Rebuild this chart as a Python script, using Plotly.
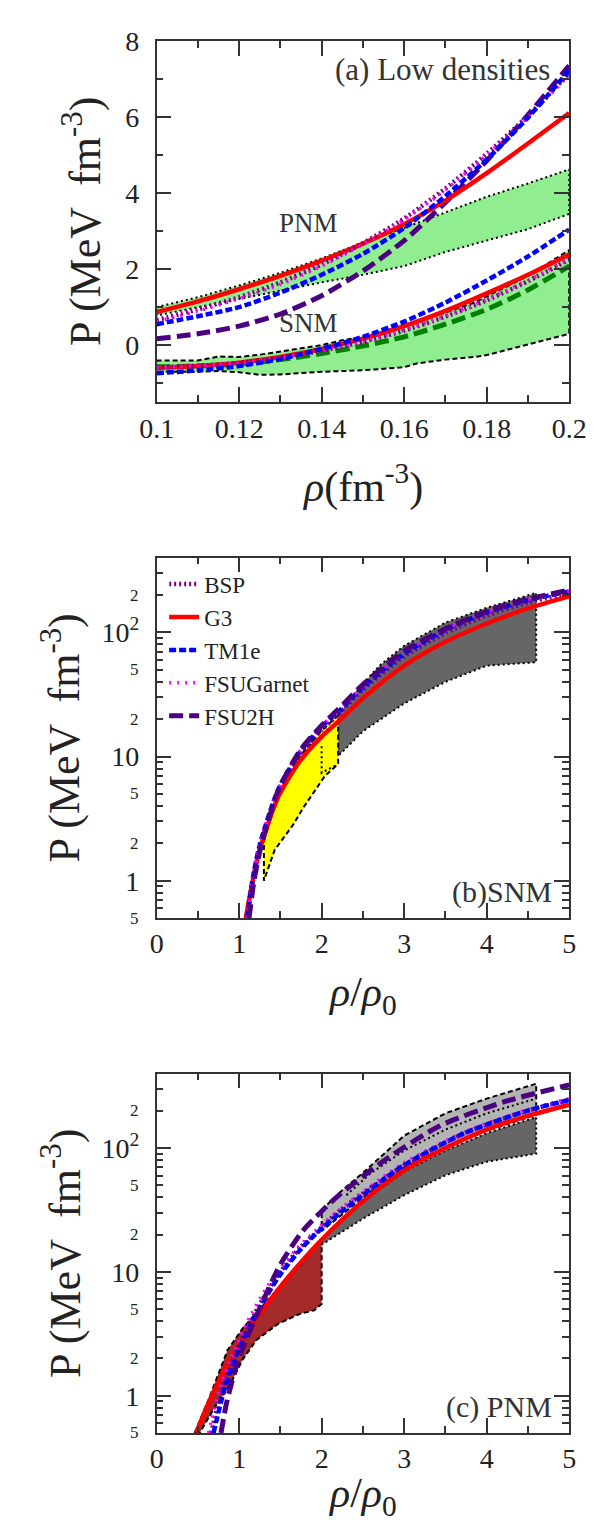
import numpy as np
import plotly.graph_objects as go

FONT = "Liberation Serif"
INK = "#333333"

# ---------------- Panel (a): low densities ----------------
A_X = [0.10, 0.11, 0.12, 0.13, 0.14, 0.15, 0.16, 0.17, 0.18, 0.19, 0.20]
A_PNM_BSP = [0.66, 0.94, 1.26, 1.65, 2.12, 2.68, 3.33, 4.12, 5.03, 6.03, 7.15]
A_PNM_G3 = [0.87, 1.15, 1.47, 1.82, 2.22, 2.67, 3.18, 3.80, 4.52, 5.30, 6.10]
A_PNM_TM1E = [0.55, 0.76, 1.00, 1.38, 1.85, 2.40, 3.08, 3.92, 4.88, 5.98, 7.22]
A_PNM_FSUGARNET = [0.62, 0.90, 1.22, 1.60, 2.08, 2.65, 3.30, 4.08, 5.00, 6.00, 7.10]
A_PNM_FSU2H = [0.17, 0.30, 0.50, 0.82, 1.30, 1.95, 2.75, 3.75, 4.85, 6.05, 7.35]

A_SNM_BSP = [-0.58, -0.54, -0.47, -0.33, -0.15, 0.09, 0.38, 0.75, 1.18, 1.68, 2.25]
A_SNM_G3 = [-0.60, -0.55, -0.46, -0.31, -0.10, 0.17, 0.50, 0.90, 1.36, 1.85, 2.38]
A_SNM_TM1E = [-0.74, -0.66, -0.55, -0.36, -0.10, 0.22, 0.62, 1.12, 1.70, 2.33, 3.04]
A_SNM_FSUGARNET = [-0.58, -0.54, -0.47, -0.33, -0.14, 0.10, 0.40, 0.77, 1.20, 1.70, 2.27]
A_SNM_GREEN = [-0.57, -0.55, -0.50, -0.38, -0.22, -0.02, 0.22, 0.55, 0.94, 1.45, 2.08]

A_PNM_BAND_X = [0.10, 0.11, 0.12, 0.13, 0.14, 0.15, 0.16, 0.17, 0.18, 0.19, 0.20]
A_PNM_BAND_UP = [1.00, 1.26, 1.57, 1.90, 2.28, 2.70, 3.08, 3.50, 3.90, 4.25, 4.62]
A_PNM_BAND_LO = [0.78, 0.98, 1.20, 1.43, 1.65, 1.85, 2.08, 2.45, 2.75, 3.05, 3.45]

A_SNM_BAND_X = [0.10, 0.11, 0.115, 0.12, 0.125, 0.13, 0.14, 0.145, 0.15, 0.16,
                0.163, 0.17, 0.177, 0.18, 0.19, 0.20]
A_SNM_BAND_UP = [-0.40, -0.40, -0.30, -0.31, -0.25, -0.17, 0.00, 0.13, 0.21, 0.52,
                 0.60, 0.86, 1.12, 1.28, 1.82, 2.50]
A_SNM_BAND_LO = [-0.70, -0.70, -0.68, -0.71, -0.78, -0.77, -0.70, -0.68, -0.66, -0.58,
                 -0.48, -0.38, -0.31, -0.26, 0.02, 0.30]

A_XTICKS = [0.10, 0.12, 0.14, 0.16, 0.18, 0.20]
A_XTICK_LABELS = ["0.1", "0.12", "0.14", "0.16", "0.18", "0.2"]
A_YTICKS = [0, 2, 4, 6, 8]

# ---------------- Panel (b): SNM ----------------
B_BSP_X = [1.10, 1.16, 1.25, 1.47, 1.73, 2.0, 2.2, 2.5, 3.0, 3.5, 4.0, 4.5, 5.0]
B_BSP = [0.50, 0.97, 1.9, 5.1, 10.2, 16.4, 21.8, 34.5, 64.0, 99.0, 137.0, 174.0, 208.0]
B_G3_X = [1.08, 1.15, 1.25, 1.47, 1.73, 2.0, 2.2, 2.5, 3.0, 3.5, 4.0, 4.5, 5.0]
B_G3 = [0.50, 0.89, 1.78, 4.68, 9.1, 14.5, 19.1, 29.5, 54.0, 84.0, 118.0, 156.0, 195.0]
B_TM1E_X = [1.10, 1.16, 1.25, 1.47, 1.73, 2.0, 2.2, 2.5, 3.0, 3.5, 4.0, 4.5, 5.0]
B_TM1E = [0.50, 1.0, 1.95, 5.37, 10.7, 17.4, 22.9, 36.3, 67.6, 105.0, 145.0, 182.0, 214.0]
B_FSUGARNET_X = [1.10, 1.16, 1.25, 1.47, 1.73, 2.0, 2.2, 2.5, 3.0, 3.5, 4.0, 4.5, 5.0]
B_FSUGARNET = [0.50, 1.0, 1.97, 5.4, 10.8, 17.6, 23.3, 37.0, 69.0, 106.0, 146.0, 183.0, 216.0]
B_FSU2H_X = [1.12, 1.18, 1.27, 1.47, 1.73, 2.0, 2.2, 2.5, 3.0, 3.5, 4.0, 4.5, 5.0]
B_FSU2H = [0.50, 1.0, 1.95, 5.25, 11.0, 17.8, 24.0, 38.0, 70.8, 107.0, 148.0, 186.0, 219.0]

B_YEL_UP_X = [1.30, 1.35, 1.47, 1.73, 2.0, 2.2]
B_YEL_UP = [2.1, 2.7, 4.9, 10.0, 16.2, 21.5]
B_YEL_LO_X = [1.30, 1.43, 1.65, 1.78, 2.04, 2.2]
B_YEL_LO = [1.0, 1.77, 2.8, 3.9, 7.0, 8.7]
B_YEL_DOT_X = [2.0, 2.0, 2.2]
B_YEL_DOT = [12.1, 7.4, 8.7]

B_GRAY_UP_X = [2.2, 2.5, 2.7, 3.0, 3.5, 4.0, 4.6]
B_GRAY_UP = [21.5, 38.5, 54.0, 78.0, 120.0, 158.0, 208.0]
B_GRAY_LO_X = [2.2, 2.5, 3.0, 3.5, 4.0, 4.6]
B_GRAY_LO = [10.1, 16.0, 26.8, 40.0, 54.0, 57.6]

# ---------------- Panel (c): PNM ----------------
C_BSP_X = [0.66, 0.79, 0.94, 1.1, 1.32, 1.5, 1.73, 1.92, 2.21, 2.97, 3.73, 4.49, 5.0]
C_BSP = [0.50, 1.10, 2.04, 3.55, 6.61, 10.0, 15.5, 20.4, 30.9, 70.8, 132.0, 200.0, 245.0]
C_G3_X = [0.48, 0.60, 0.71, 0.85, 1.0, 1.25, 1.5, 1.75, 2.0, 2.5, 3.0, 3.5, 4.0, 4.5, 5.0]
C_G3 = [0.50, 0.79, 1.15, 1.74, 2.57, 4.57, 7.59, 12.0, 18.2, 37.2, 66.1, 100.0, 141.0, 182.0, 224.0]
C_TM1E_X = [0.69, 0.82, 0.955, 1.1, 1.32, 1.5, 1.73, 1.92, 2.21, 2.97, 3.73, 4.49, 5.0]
C_TM1E = [0.50, 1.12, 2.04, 3.31, 6.17, 9.55, 14.8, 20.0, 29.5, 70.8, 132.0, 200.0, 245.0]
C_FSUGARNET_X = [0.63, 0.76, 0.92, 1.1, 1.32, 1.5, 1.73, 1.92, 2.21, 2.97, 3.73, 4.49, 5.0]
C_FSUGARNET = [0.50, 1.12, 2.14, 3.98, 7.24, 10.7, 16.2, 21.4, 31.6, 74.1, 135.0, 204.0, 251.0]
C_FSU2H_X = [0.78, 0.85, 0.99, 1.24, 1.5, 1.77, 2.0, 2.21, 2.78, 3.43, 4.19, 5.0]
C_FSU2H = [0.50, 0.89, 1.95, 4.90, 11.5, 21.4, 30.9, 41.7, 81.3, 151.0, 234.0, 324.0]

C_BROWN_UP_X = [0.46, 0.63, 0.86, 0.95, 1.05, 1.25, 1.5, 1.75, 1.92, 2.0]
C_BROWN_UP = [0.50, 0.93, 2.34, 2.88, 3.55, 5.01, 7.59, 11.5, 15.8, 17.8]
C_BROWN_LO_X = [0.52, 0.71, 0.88, 1.04, 1.21, 1.47, 1.73, 1.91, 2.0]
C_BROWN_LO = [0.50, 0.82, 1.19, 1.95, 2.82, 3.80, 4.57, 4.90, 5.50]

C_LGRAY_UP_X = [2.0, 2.25, 2.5, 2.75, 3.0, 3.5, 4.0, 4.6]
C_LGRAY_UP = [31.6, 45.7, 63.1, 89.1, 126.0, 191.0, 251.0, 331.0]
C_LGRAY_LO_X = [2.0, 2.5, 3.0, 3.5, 4.0, 4.6]
C_LGRAY_LO = [21.4, 39.8, 69.2, 102.0, 138.0, 186.0]
C_DOT_X = [2.3, 2.6, 3.0, 3.5, 4.0, 4.6]
C_DOT = [41.7, 63.1, 95.5, 141.0, 191.0, 251.0]

C_DGRAY_UP_X = [2.0, 2.5, 3.0, 3.5, 4.0, 4.6]
C_DGRAY_UP = [18.6, 37.2, 64.6, 95.5, 132.0, 178.0]
C_DGRAY_LO_X = [2.0, 2.5, 3.0, 3.5, 4.0, 4.6]
C_DGRAY_LO = [16.6, 26.9, 41.7, 60.3, 77.6, 90.2]

LOG_MAJOR = [1, 10, 100]
LOG_MAJOR_LABELS = ["1", "10", "10<sup>2</sup>"]
LOG_SMALL = [0.5, 2, 5, 20, 50, 200]
LOG_SMALL_LABELS = ["5", "2", "5", "2", "5", "2"]
LOG_MINOR = [0.5, 0.6, 0.7, 0.8, 0.9, 2, 3, 4, 5, 6, 7, 8, 9,
             20, 30, 40, 50, 60, 70, 80, 90, 200, 300, 400]
RHO_TICKS = [0, 1, 2, 3, 4, 5]

MODELS = ["BSP", "G3", "TM1e", "FSUGarnet", "FSU2H"]
STYLE = {
    "BSP": dict(color="#800080", dash="2px,3px", width=4.5),
    "G3": dict(color="#ff0000", dash="solid", width=4.5),
    "TM1e": dict(color="#0000ff", dash="7px,3px", width=4.5),
    "FSUGarnet": dict(color="#ff00ff", dash="2px,6px", width=3.5),
    "FSU2H": dict(color="#4b0082", dash="14px,6px", width=5),
}
GREEN_STYLE = dict(color="#008000", dash="14px,6px", width=5)
DASH_EDGE = dict(color="black", dash="5px,3px", width=2)
DOT_EDGE = dict(color="black", dash="2px,3px", width=2)

fig = go.Figure()


def add_line(x, y, style, xa, ya, name=None, showlegend=False):
    fig.add_trace(go.Scatter(
        x=x, y=y, mode="lines", name=name, showlegend=showlegend,
        line=dict(shape="spline", smoothing=0.7, **style),
        xaxis=xa, yaxis=ya, hoverinfo="skip"))


def add_band(xu, yu, xl, yl, fill, edge, xa, ya):
    xs = list(xu) + list(xl)[::-1] + [xu[0]]
    ys = list(yu) + list(yl)[::-1] + [yu[0]]
    fig.add_trace(go.Scatter(
        x=xs, y=ys, mode="lines", fill="toself", fillcolor=fill, line=edge,
        xaxis=xa, yaxis=ya, showlegend=False, hoverinfo="skip"))


# Panel (a)
add_band(A_PNM_BAND_X, A_PNM_BAND_UP, A_PNM_BAND_X, A_PNM_BAND_LO, "#90ee90", DOT_EDGE, "x", "y")
add_band(A_SNM_BAND_X, A_SNM_BAND_UP, A_SNM_BAND_X, A_SNM_BAND_LO, "#90ee90", DASH_EDGE, "x", "y")
a_pnm = {"BSP": A_PNM_BSP, "G3": A_PNM_G3, "TM1e": A_PNM_TM1E,
         "FSUGarnet": A_PNM_FSUGARNET, "FSU2H": A_PNM_FSU2H}
a_snm = {"BSP": A_SNM_BSP, "G3": A_SNM_G3, "TM1e": A_SNM_TM1E, "FSUGarnet": A_SNM_FSUGARNET}
add_line(A_X, A_SNM_GREEN, GREEN_STYLE, "x", "y")
for m in ["G3", "BSP", "FSUGarnet", "TM1e"]:
    add_line(A_X, a_snm[m], STYLE[m], "x", "y")
for m in ["FSU2H", "G3", "BSP", "FSUGarnet", "TM1e"]:
    add_line(A_X, a_pnm[m], STYLE[m], "x", "y")

# Panel (b)
add_band(B_GRAY_UP_X, B_GRAY_UP, B_GRAY_LO_X, B_GRAY_LO, "#666666", DOT_EDGE, "x2", "y2")
add_band(B_YEL_UP_X, B_YEL_UP, B_YEL_LO_X, B_YEL_LO, "#ffff00", DASH_EDGE, "x2", "y2")
fig.add_trace(go.Scatter(x=B_YEL_DOT_X, y=B_YEL_DOT, mode="lines", line=DOT_EDGE,
                         xaxis="x2", yaxis="y2", showlegend=False, hoverinfo="skip"))
b_data = {"BSP": (B_BSP_X, B_BSP), "G3": (B_G3_X, B_G3), "TM1e": (B_TM1E_X, B_TM1E),
          "FSUGarnet": (B_FSUGARNET_X, B_FSUGARNET), "FSU2H": (B_FSU2H_X, B_FSU2H)}
for m in MODELS:
    add_line(b_data[m][0], b_data[m][1], STYLE[m], "x2", "y2", name=m, showlegend=True)

# Panel (c)
add_band(C_LGRAY_UP_X, C_LGRAY_UP, C_LGRAY_LO_X, C_LGRAY_LO, "#b4b4b4", DASH_EDGE, "x3", "y3")
add_band(C_DGRAY_UP_X, C_DGRAY_UP, C_DGRAY_LO_X, C_DGRAY_LO, "#666666", DOT_EDGE, "x3", "y3")
add_band(C_BROWN_UP_X, C_BROWN_UP, C_BROWN_LO_X, C_BROWN_LO, "#a52a2a", DASH_EDGE, "x3", "y3")
fig.add_trace(go.Scatter(x=C_DOT_X, y=C_DOT, mode="lines", line=DOT_EDGE,
                         xaxis="x3", yaxis="y3", showlegend=False, hoverinfo="skip"))
c_data = {"BSP": (C_BSP_X, C_BSP), "G3": (C_G3_X, C_G3), "TM1e": (C_TM1E_X, C_TM1E),
          "FSUGarnet": (C_FSUGARNET_X, C_FSUGARNET), "FSU2H": (C_FSU2H_X, C_FSU2H)}
for m in ["G3", "BSP", "FSUGarnet", "TM1e", "FSU2H"]:
    add_line(c_data[m][0], c_data[m][1], STYLE[m], "x3", "y3")

# ---------------- layout ----------------
W, H = 598, 1525
L, R = 139, 578
PANELS = [(18, 383), (540, 904), (1061, 1424)]


def ydom(top, bot):
    return [1 - bot / H, 1 - top / H]


XD = [L / W, R / W]
common = dict(showline=True, linecolor=INK, linewidth=1.5, mirror="ticks",
              ticks="inside", tickcolor=INK, tickwidth=1.5, ticklen=15,
              showgrid=False, zeroline=False,
              tickfont=dict(family=FONT, size=28, color="#222222"))
minor_common = dict(ticks="inside", ticklen=7, tickwidth=1.5, tickcolor=INK, showgrid=False)

fig.update_layout(
    width=W, height=H, margin=dict(l=0, r=0, t=0, b=0),
    paper_bgcolor="white", plot_bgcolor="white",
    font=dict(family=FONT, color="#222222"),
    xaxis=dict(domain=XD, anchor="y", range=[0.1, 0.2], tickvals=A_XTICKS,
               ticktext=A_XTICK_LABELS, minor=dict(dtick=0.01, tick0=0.1, **minor_common),
               **common),
    yaxis=dict(domain=ydom(*PANELS[0]), anchor="x", range=[-1.5, 8], tickvals=A_YTICKS,
               minor=dict(dtick=1, tick0=0, **minor_common), ticklabelstandoff=10, **common),
    xaxis2=dict(domain=XD, anchor="y2", range=[0, 5], tickvals=RHO_TICKS,
                minor=dict(dtick=0.5, tick0=0, **minor_common), **common),
    yaxis2=dict(domain=ydom(*PANELS[1]), anchor="x2", type="log",
                range=[np.log10(0.5), np.log10(400)], tickvals=LOG_MAJOR,
                ticktext=LOG_MAJOR_LABELS, minor=dict(tickvals=LOG_MINOR, **minor_common),
                ticklabelstandoff=10, **common),
    xaxis3=dict(domain=XD, anchor="y3", range=[0, 5], tickvals=RHO_TICKS,
                minor=dict(dtick=0.5, tick0=0, **minor_common), **common),
    yaxis3=dict(domain=ydom(*PANELS[2]), anchor="x3", type="log",
                range=[np.log10(0.5), np.log10(400)], tickvals=LOG_MAJOR,
                ticktext=LOG_MAJOR_LABELS, minor=dict(tickvals=LOG_MINOR, **minor_common),
                ticklabelstandoff=10, **common),
    legend=dict(x=147 / W, y=1 - 545 / H, xanchor="left", yanchor="top",
                bgcolor="rgba(0,0,0,0)", font=dict(family=FONT, size=23, color="#222222"),
                tracegroupgap=0, itemwidth=30),
    showlegend=True,
)

ann = []
# small log-axis labels
for ya in ["y2", "y3"]:
    for v, t in zip(LOG_SMALL, LOG_SMALL_LABELS):
        ann.append(dict(x=(L - 17) / W, xref="paper", y=np.log10(v), yref=ya,
                        text=t, showarrow=False, xanchor="right", yanchor="middle",
                        font=dict(family=FONT, size=17, color="#222222")))

ytitle = "P (MeV  fm<sup>-3</sup>)"
for (top, bot), xc in zip(PANELS, [60, 38, 38]):
    ann.append(dict(x=xc / W, xref="paper", y=1 - (top + bot) / 2 / H, yref="paper",
                    text=ytitle, textangle=-90, showarrow=False, xanchor="center",
                    yanchor="middle", font=dict(family=FONT, size=44, color="#222222")))

xt = [("<i>ρ</i>(fm<sup>-3</sup>)", 466), ("<i>ρ</i>/<i>ρ</i><sub>0</sub>", 982),
      ("<i>ρ</i>/<i>ρ</i><sub>0</sub>", 1488)]
for t, yc in xt:
    ann.append(dict(x=(L + R) / 2 / W, xref="paper", y=1 - yc / H, yref="paper", text=t,
                    showarrow=False, xanchor="center", yanchor="middle",
                    font=dict(family=FONT, size=42, color="#222222")))

labels = [("(a) Low densities", 560, 47, "right", 31),
          ("PNM", 301, 202, "center", 27),
          ("SNM", 301, 303, "center", 27),
          ("(b)SNM", 562, 878, "right", 30),
          ("(c) PNM", 562, 1398, "right", 30)]
for t, xp, yp, xa, sz in labels:
    ann.append(dict(x=xp / W, xref="paper", y=1 - yp / H, yref="paper", text=t,
                    showarrow=False, xanchor=xa, yanchor="middle",
                    font=dict(family=FONT, size=sz, color="#333333")))

fig.update_layout(annotations=ann)
fig.write_html("out.html")
